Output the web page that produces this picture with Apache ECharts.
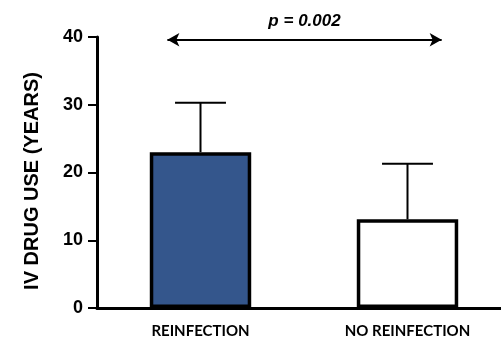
<!DOCTYPE html>
<html><head><meta charset="utf-8">
<script src="https://cdn.jsdelivr.net/npm/echarts@6/dist/echarts.min.js"></script>
<style>html,body{margin:0;padding:0;background:#fff}#c{width:501px;height:341px}</style>
</head><body><div id="c"></div>
<script>
const categories = ['REINFECTION', 'NO REINFECTION'];
const means = [23.0, 13.1];
const errorTops = [30.3, 21.3];
const yTicks = [0, 10, 20, 30, 40];
const pLabel = 'p = 0.002';
const arrowSpan = [-0.16, 1.165];
const arrowLevel = 39.6;

const chart = echarts.init(document.getElementById('c'), null, {renderer: 'canvas'});
chart.setOption({
  animation: false,
  grid: {left: 97, top: 37, bottom: 33, width: 414, containLabel: false, outerBoundsMode: 'none'},
  xAxis: [{
    type: 'category', data: categories,
    axisLine: {onZero: false, lineStyle: {color: '#000', width: 3}},
    axisTick: {alignWithLabel: true, length: 6, interval: function (i) { return i === 0; }, lineStyle: {color: '#000', width: 2}},
    axisLabel: {color: '#000', fontFamily: 'Lato', fontWeight: 'bold', fontSize: 15, margin: 16}
  }, {
    type: 'value', min: -0.5, max: 1.5, show: false
  }],
  yAxis: {
    type: 'value', min: yTicks[0], max: yTicks[yTicks.length - 1], interval: 10,
    name: 'IV DRUG USE (YEARS)', nameLocation: 'middle', nameGap: 55, nameRotate: 90,
    nameTextStyle: {color: '#000', fontFamily: 'Liberation Sans', fontWeight: 'bold', fontSize: 20, padding: [0, 17, 0, 0]},
    splitLine: {show: false},
    axisLine: {show: true, onZero: false, lineStyle: {color: '#000', width: 3}},
    axisTick: {show: true, length: 9, lineStyle: {color: '#000', width: 2}},
    axisLabel: {color: '#000', fontFamily: 'Liberation Sans', fontWeight: 'bold', fontSize: 18, margin: 14}
  },
  series: [{
    type: 'custom', xAxisIndex: 0, z: 1,
    data: means.map((m, i) => [i, m, errorTops[i]]),
    encode: {x: 0, y: [1, 2]},
    renderItem: function (params, api) {
      const b = api.coord([api.value(0), api.value(1)]);
      const t = api.coord([api.value(0), api.value(2)]);
      const half = api.size([1, 0])[0] * 0.123;
      return {
        type: 'group', children: [
          {type: 'line', shape: {x1: b[0], y1: b[1], x2: t[0], y2: t[1]}, style: {stroke: '#000', lineWidth: 2}},
          {type: 'line', shape: {x1: t[0] - half, y1: t[1], x2: t[0] + half, y2: t[1]}, style: {stroke: '#000', lineWidth: 2}}
        ]
      };
    }
  }, {
    type: 'bar', xAxisIndex: 0, z: 2, barWidth: '49%',
    data: means.map((m, i) => ({value: m, itemStyle: {color: i === 0 ? '#34568C' : '#ffffff'}})),
    itemStyle: {borderColor: '#000', borderWidth: 3.5}
  }, {
    type: 'line', xAxisIndex: 1, data: [], z: 3,
    markLine: {
      silent: true, symbol: ['arrow', 'arrow'], symbolSize: [10, 12],
      lineStyle: {color: '#000', width: 2, type: 'solid'},
      label: {show: true, position: 'middle', formatter: pLabel, color: '#000',
        fontFamily: 'Liberation Sans', fontWeight: 'bold', fontStyle: 'italic', fontSize: 17, distance: 10},
      data: [[{coord: [arrowSpan[0], arrowLevel]}, {coord: [arrowSpan[1], arrowLevel]}]]
    }
  }]
});
</script></body></html>
